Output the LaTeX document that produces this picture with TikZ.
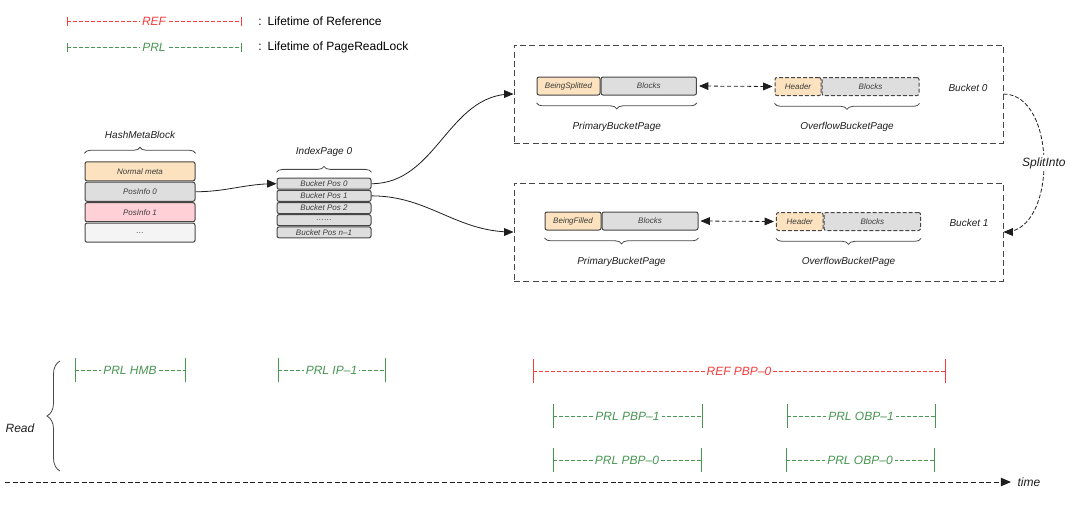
\documentclass[tikz,border=0pt]{standalone}
\usepackage{fontspec}
\setmainfont{Liberation Sans}
\usepackage{tikz}
\usetikzlibrary{arrows,positioning,decorations.pathreplacing}

\begin{document}
\begin{tikzpicture}[x=0.75pt,y=-0.75pt,
  cell/.style={draw=lineGray,line width=0.75pt,rounded corners=1.5pt,inner sep=0pt,text=cellText,font=\fontsize{6}{7}\selectfont\itshape},
  pagecell/.style={cell,minimum height=13.5pt},
  ovcell/.style={pagecell,dash pattern=on 3pt off 1.5pt},
  bucketbox/.style={draw=lineGray,line width=0.75pt,dash pattern=on 4.5pt off 2.5pt,inner sep=0pt,minimum width=366.75pt,minimum height=73.5pt},
  lbl/.style={inner sep=0pt,text=textDark,font=\fontsize{7.5}{9}\selectfont\itshape},
  bigl/.style={inner sep=0pt,text=textDark,font=\fontsize{9}{11}\selectfont\itshape},
  bracedraw/.style={draw=lineGray,line width=0.6pt,decorate,decoration={brace,amplitude=4.5pt}},
  link/.style={->,>=triangle 45,draw=textDark,line width=0.6pt},
  lifeline/.style={line width=0.6pt,dash pattern=on 3pt off 1.5pt}]
\definecolor{lineGray}{RGB}{70,70,70}
\definecolor{textDark}{RGB}{30,30,30}
\definecolor{cellText}{RGB}{60,60,60}
\definecolor{metaOrange}{RGB}{252,226,190}
\definecolor{cellGray}{RGB}{222,222,222}
\definecolor{cellPink}{RGB}{255,208,214}
\definecolor{cellLight}{RGB}{244,244,244}
\definecolor{refRed}{RGB}{245,60,60}
\definecolor{prlGreen}{RGB}{72,150,82}
\useasboundingbox (0,0) rectangle (1080,512);

\foreach \yy/\col/\txt/\desc [count=\i] in {21.5/refRed/REF/Lifetime of Reference,47.5/prlGreen/PRL/Lifetime of PageReadLock}{
  \draw[lifeline,draw=\col] (67,\yy) -- (241,\yy) node[midway,bigl,text=\col,fill=white,inner sep=1.5pt] (key\i) {\txt};
  \draw[draw=\col,line width=0.75pt] (67,{\yy-4.5}) -- (67,{\yy+4.5}) (241,{\yy-4.5}) -- (241,{\yy+4.5});
  \node[anchor=west,inner sep=0pt,text=black,font=\fontsize{9}{11}\selectfont] (desc\i) at (258,\yy) {:\enspace\desc};
}

\foreach \txt/\col [count=\i from 0] in {Normal meta/metaOrange,PosInfo 0/cellGray,PosInfo 1/cellPink,\ldots/cellLight}
  \node[cell,fill=\col,minimum width=82.5pt,minimum height=14.3pt] (hmb\i) at (140,{171.3+20.45*\i}) {\txt};
\draw[bracedraw] ([yshift=6pt]hmb0.north west) -- ([yshift=6pt]hmb0.north east) node[midway,above=11pt,lbl] (hmbl) {HashMetaBlock};

\foreach \txt [count=\i from 0] in {Bucket Pos 0,Bucket Pos 1,Bucket Pos 2,\ldots\ldots,Bucket Pos n--1}
  \node[cell,fill=cellGray,minimum width=70.5pt,minimum height=8.25pt] (ip\i) at (324,{183.7+12.15*\i}) {\txt};
\draw[bracedraw] ([yshift=4pt]ip0.north west) -- ([yshift=4pt]ip0.north east) node[midway,above=11.5pt,lbl] (ipl) {IndexPage 0};

\node[bucketbox] (bkt0) at (758.5,94) {};
\node[bucketbox] (bkt1) at (758.5,232) {};
\node[lbl] (bkt0l) at (968,88) {Bucket 0};
\node[lbl] (bkt1l) at (969,223) {Bucket 1};

\node[pagecell,fill=metaOrange,minimum width=47.25pt] (pbp0h) at (568.5,86) {BeingSplitted};
\node[pagecell,fill=cellGray,minimum width=71.6pt,right=0pt of pbp0h] (pbp0b) {Blocks};
\node[ovcell,fill=metaOrange,minimum width=34.5pt] (obp0h) at (798,86.5) {Header};
\node[ovcell,fill=cellGray,minimum width=72.75pt,right=0pt of obp0h] (obp0b) {Blocks};
\node[pagecell,fill=metaOrange,minimum width=42pt] (pbp1h) at (573,221) {BeingFilled};
\node[pagecell,fill=cellGray,minimum width=72pt,right=0pt of pbp1h] (pbp1b) {Blocks};
\node[ovcell,fill=metaOrange,minimum width=34.9pt] (obp1h) at (799.75,221.5) {Header};
\node[ovcell,fill=cellGray,minimum width=72.4pt,right=0pt of obp1h] (obp1b) {Blocks};

\draw[bracedraw] ([yshift=-5.5pt]pbp0b.south east) -- ([yshift=-5.5pt]pbp0h.south west) node[midway,below=14pt,lbl] (pbp0l) {PrimaryBucketPage};
\draw[bracedraw] ([yshift=-5.5pt]obp0b.south east) -- ([yshift=-5.5pt]obp0h.south west) node[midway,below=14pt,lbl] (obp0l) {OverflowBucketPage};
\draw[bracedraw] ([yshift=-5.5pt]pbp1b.south east) -- ([yshift=-5.5pt]pbp1h.south west) node[midway,below=14pt,lbl] (pbp1l) {PrimaryBucketPage};
\draw[bracedraw] ([yshift=-5.5pt]obp1b.south east) -- ([yshift=-5.5pt]obp1h.south west) node[midway,below=14pt,lbl] (obp1l) {OverflowBucketPage};

\draw[link,<->,dash pattern=on 3pt off 2pt] ([xshift=1.5pt]pbp0b.east) -- ([xshift=-1.5pt]obp0h.west);
\draw[link,<->,dash pattern=on 3pt off 2pt] ([xshift=1.5pt]pbp1b.east) -- ([xshift=-1.5pt]obp1h.west);

\draw[link] (hmb1.east) to[out=0,in=180] (ip0.west);
\draw[link] (ip0.east) to[out=0,in=180] (bkt0.west);
\draw[link] (ip1.east) to[out=0,in=180] (bkt1.west);
\draw[link,dash pattern=on 3pt off 1.5pt] (bkt0.east) to[out=0,in=0] node[bigl,fill=white,inner sep=1.5pt] (split) {SplitInto} (bkt1.east);

\draw[bracedraw,decoration={brace,amplitude=9.75pt}] (60,471) -- (60,361);
\node[bigl] (readl) at (20,428) {Read};

\foreach \xa/\xb/\yy/\col/\txt [count=\i] in {75/185/370/prlGreen/PRL HMB,278/385/370/prlGreen/PRL IP--1,533/945/371/refRed/REF PBP--0,553/702/416/prlGreen/PRL PBP--1,787/935/416/prlGreen/PRL OBP--1,553/701/460/prlGreen/PRL PBP--0,786/934/460/prlGreen/PRL OBP--0}{
  \draw[lifeline,draw=\col] (\xa,\yy) -- (\xb,\yy) node[midway,bigl,text=\col,fill=white,inner sep=1.5pt] (life\i) {\txt};
  \draw[draw=\col,line width=0.75pt] (\xa,{\yy-12}) -- (\xa,{\yy+12}) (\xb,{\yy-12}) -- (\xb,{\yy+12});
}

\coordinate (t0) at (5,482);
\coordinate (t1) at (1011,482);
\draw[link,line width=0.75pt,dash pattern=on 3.75pt off 2pt] (t0) -- (t1) node[right=4.5pt,bigl] (timel) {time};
\end{tikzpicture}
\end{document}
